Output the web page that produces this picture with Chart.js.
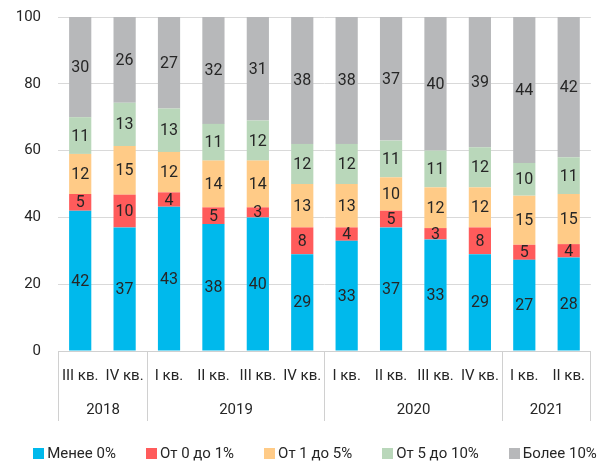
<!DOCTYPE html>
<html>
<head>
<meta charset="utf-8">
<script src="https://cdn.jsdelivr.net/npm/chart.js@4"></script>
<style>
  html, body { margin: 0; padding: 0; background: #fff; }
</style>
</head>
<body>
<canvas id="chart" width="601" height="462"></canvas>
<script>
const quarters = ['III кв.', 'IV кв.', 'I кв.', 'II кв.', 'III кв.', 'IV кв.', 'I кв.', 'II кв.', 'III кв.', 'IV кв.', 'I кв.', 'II кв.'];
const years = ['2018', '2019', '2020', '2021'];
const yearSpans = [2, 4, 4, 2];

const seriesNames = ['Менее 0%', 'От 0 до 1%', 'От 1 до 5%', 'От 5 до 10%', 'Более 10%'];
const below0 = [42, 37.0, 43.2, 38, 40, 29, 33, 37, 33.4, 29, 27.3, 28];
const zeroTo1 = [5, 9.8, 4.3, 5, 3, 8, 4, 5, 3.4, 8, 4.5, 4];
const oneTo5 = [12, 14.6, 12.1, 14, 14, 13, 13, 10, 12.2, 12, 14.7, 15];
const fiveTo10 = [11, 12.9, 13.0, 11, 12, 12, 12, 11, 11, 12, 9.8, 11];
const above10 = [30, 25.7, 27.4, 32, 31, 38, 38, 37, 40, 39, 43.7, 42];

const colors = ['#00B9EC', '#FF5B5B', '#FFCB87', '#B9D7BA', '#B7B8BA'];
const textColor = '#262626';
const lineColor = '#d0d0d0';
const fontFamily = 'Roboto, "Liberation Sans", sans-serif';

// values in the middle of each segment
const segmentLabels = {
  id: 'segmentLabels',
  afterDatasetsDraw(chart) {
    const ctx = chart.ctx;
    ctx.save();
    ctx.fillStyle = textColor;
    ctx.font = '16px ' + fontFamily;
    ctx.textAlign = 'center';
    ctx.textBaseline = 'middle';
    chart.data.datasets.forEach((ds, i) => {
      chart.getDatasetMeta(i).data.forEach((bar, j) => {
        const p = bar.getProps(['x', 'y', 'base'], true);
        ctx.fillText(Math.round(ds.data[j]), p.x, (p.y + p.base) / 2 + 1);
      });
    });
    ctx.restore();
  }
};

// second row of the x axis: years with separators
const yearAxis = {
  id: 'yearAxis',
  afterDraw(chart) {
    const ctx = chart.ctx;
    const area = chart.chartArea;
    const xs = chart.scales.x;
    const step = xs.getPixelForValue(1) - xs.getPixelForValue(0);
    ctx.save();
    ctx.strokeStyle = lineColor;
    ctx.lineWidth = 1;
    ctx.fillStyle = textColor;
    ctx.font = '15px ' + fontFamily;
    ctx.textAlign = 'center';
    ctx.textBaseline = 'middle';
    let idx = 0;
    const edge = i => Math.round(xs.getPixelForValue(i) - step / 2) + 0.5;
    ctx.beginPath();
    ctx.moveTo(edge(0), area.bottom);
    ctx.lineTo(edge(0), area.bottom + 70);
    ctx.stroke();
    years.forEach((y, k) => {
      const left = edge(idx);
      idx += yearSpans[k];
      const right = idx >= quarters.length ? Math.round(area.right) - 0.5 : edge(idx);
      ctx.beginPath();
      ctx.moveTo(right, area.bottom);
      ctx.lineTo(right, area.bottom + 70);
      ctx.stroke();
      ctx.fillText(y, (left + right) / 2, area.bottom + 59);
    });
    ctx.restore();
  }
};

// legend row at the bottom
const bottomLegend = {
  id: 'bottomLegend',
  afterDraw(chart) {
    const ctx = chart.ctx;
    const box = 11, gap = 3, itemGap = 30, cy = chart.chartArea.bottom + 102;
    ctx.save();
    ctx.font = '15px ' + fontFamily;
    ctx.textBaseline = 'middle';
    const items = chart.data.datasets.map(ds => ({ ds, w: box + gap + ctx.measureText(ds.label).width }));
    const total = items.reduce((a, it) => a + it.w, 0) + itemGap * (items.length - 1);
    let x = 315 - total / 2;
    items.forEach(it => {
      ctx.fillStyle = it.ds.backgroundColor;
      ctx.fillRect(Math.round(x), Math.round(cy - box / 2), box, box);
      ctx.fillStyle = textColor;
      ctx.fillText(it.ds.label, x + box + gap, cy + 1);
      x += it.w + itemGap;
    });
    ctx.restore();
  }
};

const series = [below0, zeroTo1, oneTo5, fiveTo10, above10];

new Chart(document.getElementById('chart').getContext('2d'), {
  type: 'bar',
  data: {
    labels: quarters,
    datasets: series.map((values, i) => ({
      label: seriesNames[i],
      data: values,
      backgroundColor: colors[i],
      borderWidth: 0,
      barPercentage: 0.5,
      categoryPercentage: 1,
    })),
  },
  options: {
    responsive: false,
    animation: false,
    layout: { padding: { top: 17, right: 1, left: 0, bottom: 61 } },
    plugins: {
      legend: { display: false },
      tooltip: { enabled: false },
    },
    scales: {
      x: {
        stacked: true,
        grid: { display: false, drawTicks: false },
        border: { display: true, color: lineColor, width: 1 },
        ticks: {
          color: textColor,
          font: { family: fontFamily, size: 15 },
          padding: 16,
          maxRotation: 0,
          autoSkip: false,
        },
      },
      y: {
        stacked: true,
        min: 0,
        max: 100,
        grid: { color: '#d9d9d9', drawTicks: false },
        border: { display: false },
        ticks: {
          stepSize: 20,
          color: textColor,
          font: { family: fontFamily, size: 15 },
          padding: 17,
        },
        afterFit(scale) {
          scale.width = 58;
          scale.paddingTop = 0;
          scale.paddingBottom = 0;
        },
      },
    },
  },
  plugins: [segmentLabels, yearAxis, bottomLegend],
});
</script>
</body>
</html>
